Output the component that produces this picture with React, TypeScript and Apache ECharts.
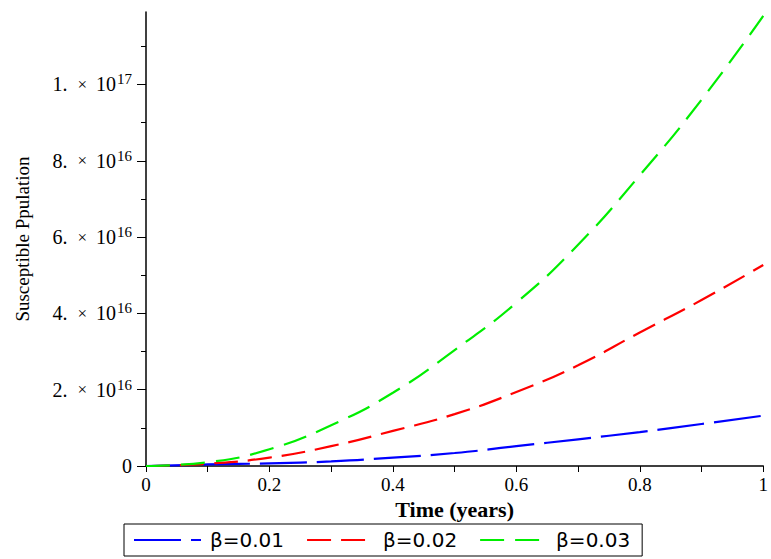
import React, { useEffect, useRef } from "react";
import * as echarts from "echarts";

const times = [0, 0.1, 0.2, 0.3, 0.4, 0.5, 0.6, 0.7, 0.8, 0.9, 1.0];
const beta001 = [0, 0.04e16, 0.07e16, 0.12e16, 0.22e16, 0.34e16, 0.52e16, 0.7e16, 0.89e16, 1.1e16, 1.32e16];
const beta002 = [0, 0.06e16, 0.22e16, 0.52e16, 0.92e16, 1.36e16, 1.94e16, 2.64e16, 3.5e16, 4.35e16, 5.27e16];
const beta003 = [0, 0.1e16, 0.44e16, 1.07e16, 1.92e16, 3.04e16, 4.28e16, 5.8e16, 7.62e16, 9.6e16, 11.8e16];

const seriesNames = ["β=0.01", "β=0.02", "β=0.03"];
const xTickValues = [0, 0.1, 0.2, 0.3, 0.4, 0.5, 0.6, 0.7, 0.8, 0.9, 1];
const xLabelValues = [0, 0.2, 0.4, 0.6, 0.8, 1];
const yLabelValues = [0, 2e16, 4e16, 6e16, 8e16, 1e17];

const pairs = (ys: number[]) => times.map((t, i) => [t, ys[i]]);

export default function App() {
  const ref = useRef<HTMLDivElement>(null);
  useEffect(() => {
    if (!ref.current) return;
    const chart = echarts.init(ref.current, undefined, { renderer: "svg" });
    const serif = "Liberation Serif";
    const yFormatter = (v: number) => {
      if (v === 0) return "{m|0}";
      const exp = Math.floor(Math.log10(v) + 1e-9);
      const mant = Math.round(v / Math.pow(10, exp));
      return `{d|${mant}.}{x|×}{m|10}{e|${exp}}`;
    };
    chart.setOption({
      animation: false,
      backgroundColor: "#ffffff",
      grid: { left: 146, right: 5, top: 12, bottom: 93 },
      xAxis: {
        type: "value",
        min: 0,
        max: 1,
        name: "Time (years)",
        nameLocation: "middle",
        nameGap: 29,
        nameTextStyle: { fontFamily: serif, fontSize: 22, fontWeight: "bold", color: "#000" },
        axisLine: { show: true, onZero: false, lineStyle: { color: "#000", width: 1.5 } },
        axisTick: { show: true, inside: false, length: 6, customValues: xTickValues, lineStyle: { color: "#000" } },
        axisLabel: {
          customValues: xLabelValues,
          margin: 9,
          fontFamily: serif,
          fontSize: 19,
          color: "#000",
          formatter: (v: number) => String(Math.round(v * 10) / 10),
        },
        splitLine: { show: false },
      },
      yAxis: {
        type: "value",
        min: 0,
        max: 1.19e17,
        interval: 2e16,
        name: "Susceptible Ppulation",
        nameLocation: "middle",
        nameRotate: 90,
        nameGap: 114,
        nameTextStyle: { fontFamily: serif, fontSize: 19, color: "#000" },
        axisLine: { show: true, onZero: false, lineStyle: { color: "#000", width: 1.5 } },
        axisTick: { show: true, inside: false, length: 9, customValues: yLabelValues, lineStyle: { color: "#000" } },
        minorTick: { show: true, splitNumber: 2, length: 5, lineStyle: { color: "#000" } },
        axisLabel: {
          customValues: yLabelValues,
          margin: 14,
          color: "#000",
          formatter: yFormatter,
          rich: {
            d: { fontFamily: serif, fontSize: 20, color: "#000", padding: [0, 5, 0, 0] },
            x: { fontFamily: serif, fontSize: 17, color: "#000", padding: [0, 9, 0, 5] },
            m: { fontFamily: serif, fontSize: 20, color: "#000" },
            e: { fontFamily: serif, fontSize: 15, color: "#000", verticalAlign: "bottom", padding: [0, 0, 10, 1] },
          },
        },
        splitLine: { show: false },
      },
      legend: {
        left: 124,
        top: 524,
        orient: "horizontal",
        data: seriesNames,
        borderColor: "#000",
        borderWidth: 1,
        borderRadius: 0,
        padding: [6, 12, 6, 9],
        itemWidth: 67,
        itemHeight: 14,
        itemGap: 22,
        itemStyle: { opacity: 0, borderWidth: 0 },
        textStyle: { fontFamily: "DejaVu Sans", fontSize: 20, color: "#000", padding: [0, 0, 0, 4] },
      },
      series: [
        {
          name: seriesNames[0],
          type: "line",
          data: pairs(beta001),
          smooth: true,
          symbol: "none",
          lineStyle: { color: "#0000ff", width: 2.2, type: [47, 10] },
          itemStyle: { color: "#0000ff" },
        },
        {
          name: seriesNames[1],
          type: "line",
          data: pairs(beta002),
          smooth: true,
          symbol: "none",
          lineStyle: { color: "#ff0000", width: 2.2, type: [24, 10] },
          itemStyle: { color: "#ff0000" },
        },
        {
          name: seriesNames[2],
          type: "line",
          data: pairs(beta003),
          smooth: true,
          symbol: "none",
          lineStyle: { color: "#00ee00", width: 2.2, type: [24, 11] },
          itemStyle: { color: "#00ee00" },
        },
      ],
    });
    return () => chart.dispose();
  }, []);
  return <div ref={ref} style={{ width: 771, height: 559, position: "absolute", left: 0, top: 0 }} />;
}
